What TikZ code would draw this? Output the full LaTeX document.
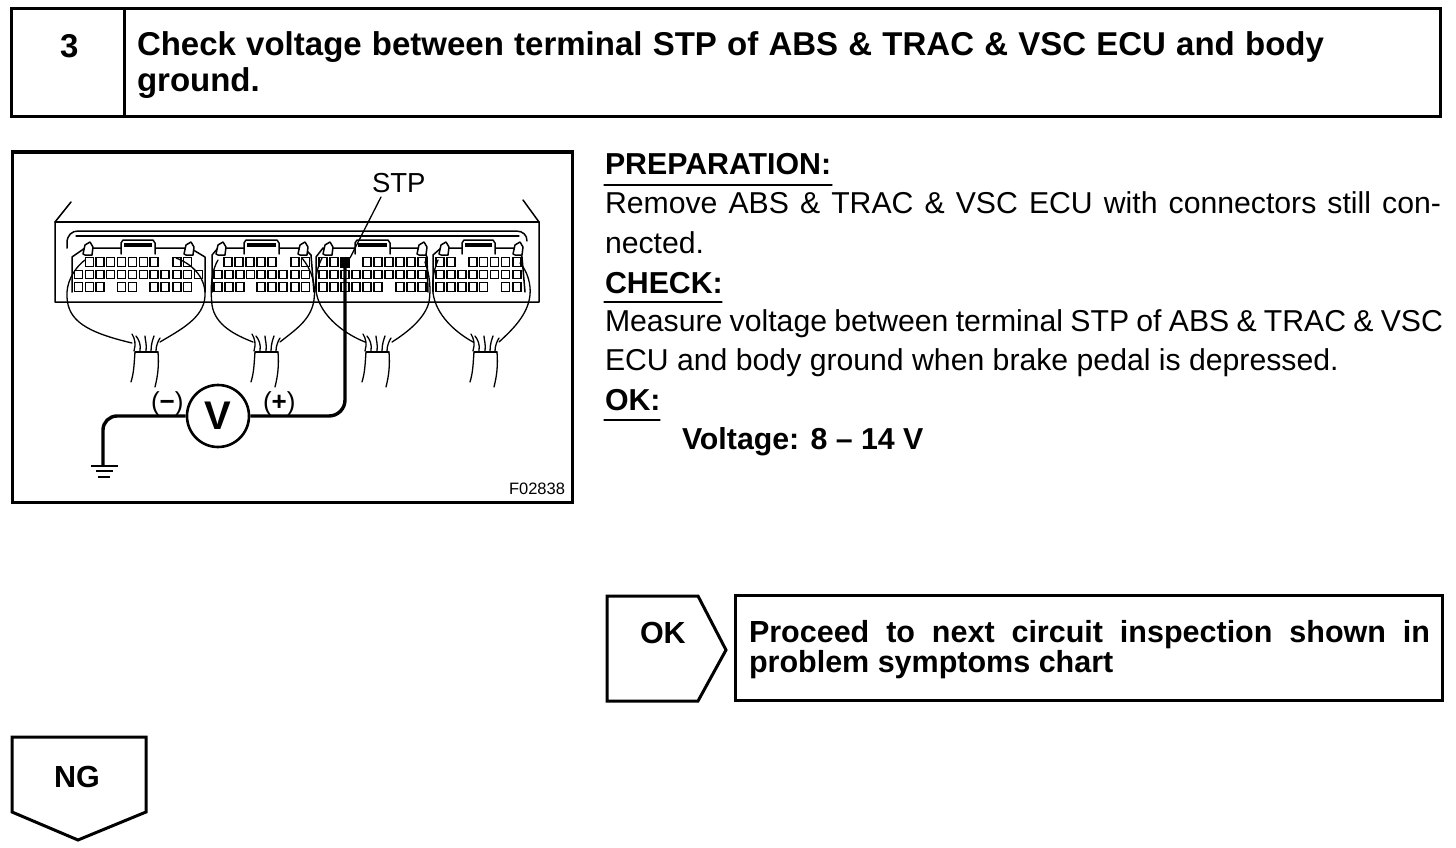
\documentclass[tikz,border=0pt]{standalone}
\usepackage{fontspec}
\setmainfont{Liberation Sans}
\newcommand{\fs}[1]{\fontsize{#1}{#1}\selectfont}
\newcommand{\fitline}[2]{\makebox[#1pt][s]{#2}}
\tikzset{x=1pt,y=-1pt,
  box/.style={draw=black,line width=3pt,line join=miter,outer sep=0pt},
  thinl/.style={draw=black,line width=1.5pt,line cap=round,line join=round},
  wire/.style={draw=black,line width=1.3pt,line cap=round},
  probe/.style={draw=black,line width=3.4pt},
  pin/.style={draw=black,line width=1.2pt,fill=white},
  txt/.style={anchor=base west,inner sep=0pt,outer sep=0pt,text=black},
  ttl/.style={txt,font=\bfseries\fs{33}},
  head/.style={txt,font=\bfseries\fs{30.3}},
  body/.style={txt,font=\fs{30.2}},
  act/.style={txt,font=\bfseries\fs{30.5}}
}
\newcommand{\pins}[2]{\foreach \px in {#2}{\draw[pin] (\px-4,#1-4.3) rectangle (\px+4,#1+4.3);}}
\newcommand{\fan}[1]{%
  \begin{scope}[xshift=#1pt]
    \draw[wire] (135,352) -- (158,352);
    \draw[wire] (135,352) .. controls (134,365) and (134,372) .. (131,382);
    \draw[wire] (158,352) .. controls (159,365) and (158,375) .. (155,387);
    \draw[wire] (134,351) .. controls (136,344) and (135,339) .. (132,334);
    \draw[wire] (140,351) .. controls (141,344) and (139,340) .. (136,336);
    \draw[wire] (146,351) .. controls (147,344) and (145,340) .. (145,336);
    \draw[wire] (151,351) .. controls (151,344) and (153,339) .. (154,336);
    \draw[wire] (156,351) .. controls (156,346) and (158,341) .. (160,338);
  \end{scope}}
\newcommand{\latch}[2]{\draw[thinl,fill=white] (#1-5,#2+4) -- (#1-3,#2-5) -- (#1+2,#2-8) -- (#1+5,#2-3) -- (#1+4,#2+5) -- (#1-3,#2+5) -- cycle;}
\newcommand{\tab}[2]{%
  \draw[thinl,fill=white] (#1,254) -- (#1,243) -- (#1+2,240) -- (#2-2,240) -- (#2,243) -- (#2,254);
  \fill[black] (#1+3,243) rectangle (#2-3,247);}
\begin{document}
\begin{tikzpicture}
\useasboundingbox (0,0) rectangle (1456,848);
\fill[white] (0,0) rectangle (1456,848);
% title box
\node[box,anchor=north west,minimum width=1429pt,minimum height=108pt,inner sep=0pt] (titlebox) at (11,9) {};
\coordinate (divtop) at (124,9);
\coordinate (divbot) at (124,117);
\draw[box] (divtop) -- (divbot);
\node[txt,font=\bfseries\fs{33}] (stepnum) at (60,58) {3};
\node[ttl] (title1) at (137,56) {\fitline{1187}{Check voltage between terminal STP of ABS \& TRAC \& VSC ECU and body}};
\node[ttl] (title2) at (137,92) {ground.};
% picture frame
\node[box,anchor=north west,minimum width=560pt,minimum height=350pt,inner sep=0pt] (frame) at (12,152) {};
% housing
\draw[thinl] (71,202) -- (55,222) -- (55,302) -- (539,302) -- (539,222) -- (523,200);
\draw[thinl] (55,222) -- (539,222);
\draw[thinl] (67,248) -- (67,243) .. controls (67,235) and (72,231) .. (78,231) -- (516,231) .. controls (523,231) and (527,235) .. (527,241);
\draw[wire] (76,236) -- (519,236);
% connector bodies
\draw[thinl] (72,292) -- (72,257) -- (85,248) -- (190,248) -- (205,257) -- (205,292) ;
\draw[thinl] (212,292) -- (212,255) -- (218,248) -- (304,248) -- (311,255) -- (314,292);
\draw[thinl] (316,292) -- (316,257) -- (323,248) -- (422,248) -- (427,257) -- (428,292);
\draw[thinl] (433,292) -- (433,255) -- (441,248) -- (518,248) -- (522,257) -- (525,292);
\tab{121}{155}\tab{244}{279}\tab{355}{390}\tab{462}{495}
\latch{88}{250}\latch{189}{250}\latch{221}{250}\latch{303}{250}\latch{328}{250}\latch{422}{250}\latch{444}{250}\latch{518}{250}
% pins
\pins{262}{89.3,100,110.8,121.6,132.4,143.2,154,177,187.8}
\pins{274.5}{78.7,89.3,100,110.8,121.6,132.4,143.2,154,165,177,187.8,198.5}
\pins{287}{78.7,89.3,100,121.6,132.4,154,165,177,187.8}
\pins{262}{228,239,250,261,272,295,305.8}
\pins{274.5}{218,229,240,250.6,261,272,283,295,305.8}
\pins{287}{218,229,240,261,272,283,295,305.8}
\pins{262}{323,334,345,367,378,389,400,411,422}
\pins{274.5}{323,334,345,356,367,378,389,400,411,422}
\pins{287}{323,334,345,356,367,378,400,411,422}
\pins{262}{440,451,473,483.7,494.5,505.3,517}
\pins{274.5}{440,451,462,473,483.7,494.5,505.3,517}
\pins{287}{440,451,462,473,483.7,505.3,517}
% harness wires
\draw[wire] (85,260) .. controls (72,270) and (66,285) .. (67,297) .. controls (68,320) and (85,332) .. (132,343);
\draw[wire] (176,258) .. controls (195,265) and (206,280) .. (205,296) .. controls (204,318) and (180,330) .. (160,342);
\draw[wire] (218,260) .. controls (212,270) and (210,285) .. (212,305) .. controls (215,325) and (235,335) .. (253,342);
\draw[wire] (302,258) .. controls (312,270) and (316,285) .. (314,300) .. controls (311,320) and (295,330) .. (280,342);
\draw[wire] (322,258) .. controls (316,270) and (315,280) .. (316,290) .. controls (318,312) and (340,332) .. (365,342);
\draw[wire] (425,262) .. controls (430,275) and (431,290) .. (429,302) .. controls (425,318) and (408,332) .. (392,342);
\draw[wire] (438,260) .. controls (433,272) and (432,282) .. (433,293) .. controls (436,315) and (455,332) .. (473,342);
\draw[wire] (520,263) .. controls (528,272) and (531,285) .. (530,295) .. controls (528,315) and (512,330) .. (499,342);
\fan{0}\fan{120}\fan{231}\fan{339}
% meter
\node[draw=black,line width=2.6pt,circle,minimum size=62pt,inner sep=0pt,fill=white,font=\bfseries\fs{40}] (vm) at (218,416) {V};
\coordinate (gndtop) at (103,465);
\coordinate (stppin) at (345,258);
\fill[black] (340,257) rectangle (350,268);
\draw[probe,rounded corners=14pt] (vm.west) -- (103,416) -- (gndtop);
\draw[probe,rounded corners=16pt] (vm.east) -- (345,416) -- (stppin);
\draw[line width=2pt] (91,465.5) -- (118,465.5);
\draw[line width=1.2pt] (96,471) -- (113,471);
\draw[line width=1.2pt] (98,477) -- (110,477);
\node[txt,font=\fs{26}] (minus) at (151,410) {(\textbf{−})};
\node[txt,font=\fs{26}] (plus) at (263,410) {(\textbf{+})};
% STP
\node[txt,font=\fs{27.5}] (stp) at (372,192) {STP};
\coordinate (stpleader) at (350,258);
\draw[wire] (381,197) -- (stpleader);
\node[txt,font=\fs{16.5}] (fig) at (509,494) {F02838};
% right text
\node[head] (prep) at (605,175) {PREPARATION:};
\draw[wire] (604,185) -- (832,185);
\node[body] (l1) at (605,213) {\fitline{836}{Remove ABS \& TRAC \& VSC ECU with connectors still con-}};
\node[body] (l2) at (605,253) {nected.};
\node[head] (chk) at (605,293) {CHECK:};
\draw[wire] (604,302) -- (722,302);
\node[body] (l3) at (605,331) {\fitline{838}{Measure voltage between terminal STP of ABS \& TRAC \& VSC}};
\node[body] (l4) at (605,370) {ECU and body ground when brake pedal is depressed.};
\node[head] (okh) at (605,410) {OK:};
\draw[wire] (604,420) -- (660,420);
\node[head] (volt) at (682,449) {Voltage: 8 – 14 V};
% OK arrow
\draw[box] (607,596) -- (698,596) -- (726,650) -- (698,701) -- (607,701) -- cycle;
\node[txt,font=\bfseries\fs{30.5}] (oklab) at (640,643) {OK};
\node[box,anchor=north west,minimum width=707pt,minimum height=105pt,inner sep=0pt] (nextbox) at (735,595) {};
\node[act] (n1) at (749,642) {\fitline{681}{Proceed to next circuit inspection shown in}};
\node[act] (n2) at (749,672) {problem symptoms chart};
% NG arrow
\draw[box] (12,737) -- (146,737) -- (146,812) -- (78,840) -- (12,812) -- cycle;
\node[txt,font=\bfseries\fs{30.5}] (nglab) at (54,787) {NG};
\end{tikzpicture}
\end{document}
